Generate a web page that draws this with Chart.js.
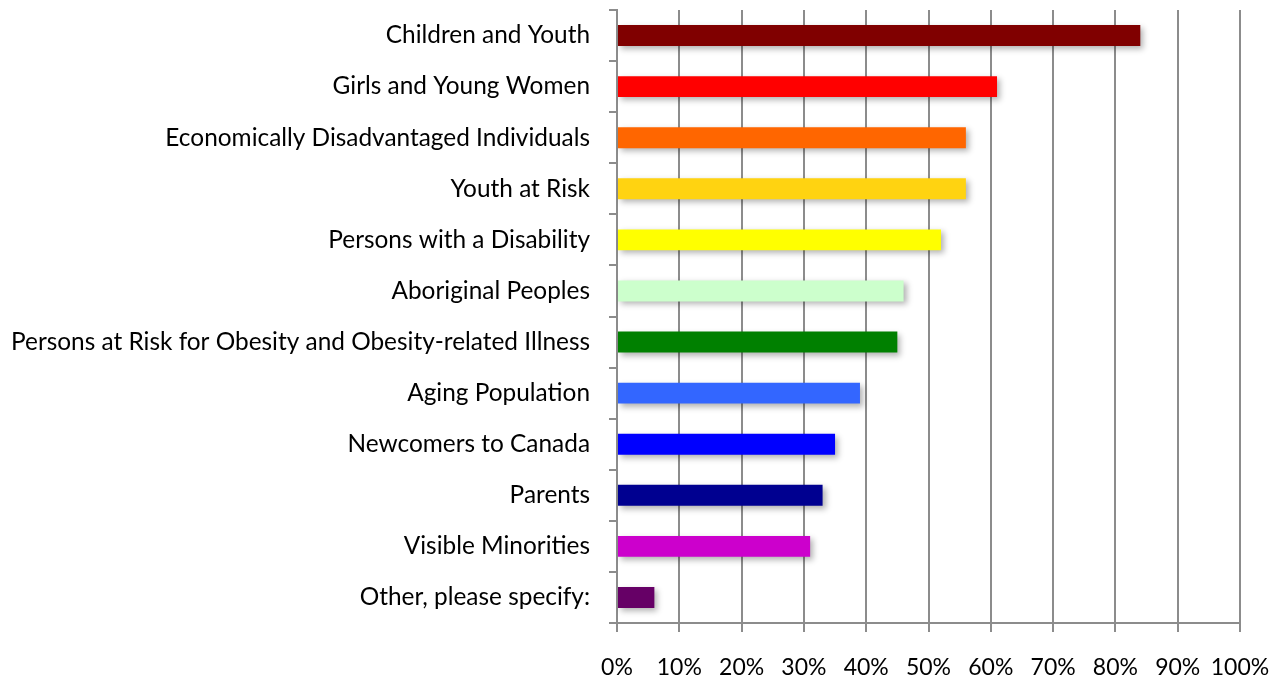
<!DOCTYPE html>
<html lang="en">
<head>
<meta charset="UTF-8">
<title>Target groups</title>
<script src="https://cdn.jsdelivr.net/npm/chart.js"></script>
<style>
  body { margin: 0; background: #fff; }
  #wrap { width: 1281px; height: 679px; }
</style>
</head>
<body>
<div id="wrap"><canvas id="barChart" width="1281" height="679"></canvas></div>
<script>
// Categories (top to bottom)
const groups = [
    'Children and Youth',
    'Girls and Young Women',
    'Economically Disadvantaged Individuals',
    'Youth at Risk',
    'Persons with a Disability',
    'Aboriginal Peoples',
    'Persons at Risk for Obesity and Obesity-related Illness',
    'Aging Population',
    'Newcomers to Canada',
    'Parents',
    'Visible Minorities',
    'Other, please specify:'
];

// Percent of respondents
const percents = [84, 61, 56, 56, 52, 46, 45, 39, 35, 33, 31, 6];

const barColors = [
    '#800000', '#ff0000', '#ff6600', '#ffd311', '#ffff00', '#ccffcc',
    '#008000', '#3366ff', '#0000ff', '#000090', '#cc00cc', '#660066'
];

// x tick labels every 10%
const xTicks = [0, 10, 20, 30, 40, 50, 60, 70, 80, 90, 100];

// soft drop shadow under the bars
const barShadow = {
    id: 'barShadow',
    beforeDatasetsDraw(chart) {
        const ctx = chart.ctx;
        ctx.save();
        ctx.shadowColor = 'rgba(0, 0, 0, 0.3)';
        ctx.shadowOffsetX = 3;
        ctx.shadowOffsetY = 3;
        ctx.shadowBlur = 6;
    },
    afterDatasetsDraw(chart) {
        chart.ctx.restore();
    }
};

const labelFont = { family: 'Lato, "Open Sans", sans-serif', size: 24.4 };
const xFont = { family: 'Lato, "Open Sans", sans-serif', size: 23 };

new Chart(document.getElementById('barChart'), {
    type: 'bar',
    data: {
        labels: groups,
        datasets: [{
            data: percents,
            backgroundColor: barColors,
            borderWidth: 0,
            barPercentage: 0.41,
            categoryPercentage: 1.0
        }]
    },
    options: {
        indexAxis: 'y',
        responsive: false,
        animation: false,
        layout: { padding: { top: 10, right: 41, bottom: 0, left: 0 } },
        plugins: {
            legend: { display: false },
            tooltip: { enabled: false }
        },
        scales: {
            x: {
                min: 0,
                max: 100,
                afterBuildTicks(scale) {
                    scale.ticks = xTicks.map(v => ({ value: v }));
                },
                afterFit(scale) {
                    scale.height = 56;
                    scale.paddingLeft = 0;
                    scale.paddingRight = 0;
                },
                ticks: {
                    color: '#000',
                    font: xFont,
                    padding: 22,
                    autoSkip: false,
                    maxRotation: 0,
                    callback: v => v + '%'
                },
                grid: {
                    color: '#8c8c8c',
                    lineWidth: 2,
                    tickLength: 9
                },
                border: { color: '#8c8c8c', width: 2 }
            },
            y: {
                afterFit(scale) {
                    scale.width = 617;
                    scale.paddingTop = 0;
                    scale.paddingBottom = 0;
                },
                grid: {
                    offset: true,
                    drawOnChartArea: false,
                    color: '#8c8c8c',
                    lineWidth: 2,
                    tickLength: 8
                },
                border: { color: '#8c8c8c', width: 2 },
                ticks: {
                    color: '#000',
                    font: labelFont,
                    padding: 19
                }
            }
        }
    },
    plugins: [barShadow]
});
</script>
</body>
</html>
